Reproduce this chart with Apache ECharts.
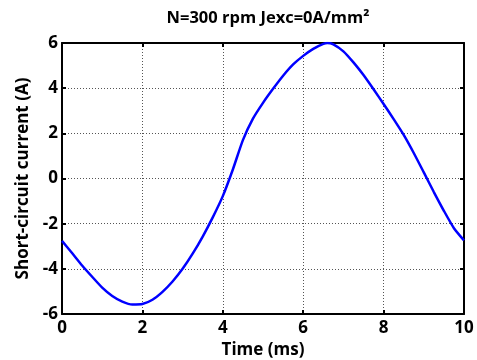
<!DOCTYPE html>
<html>
<head>
<meta charset="utf-8">
<script src="https://cdn.jsdelivr.net/npm/echarts@6/dist/echarts.min.js"></script>
<style>
  html, body { margin: 0; padding: 0; background: #fff; }
  #chart { width: 477px; height: 360px; }
</style>
</head>
<body>
<div id="chart"></div>
<script>
// time (ms) and short-circuit current (A)
const timeMs = [0, 0.25, 0.5, 0.75, 1, 1.25, 1.5, 1.75, 2, 2.25, 2.5, 2.75, 3, 3.25, 3.5, 3.75,
  4, 4.25, 4.5, 4.75, 5, 5.25, 5.5, 5.75, 6, 6.25, 6.5, 6.6, 6.75, 7, 7.25, 7.5, 7.75,
  8, 8.25, 8.5, 8.75, 9, 9.25, 9.5, 9.75, 10];
const current = [-2.76, -3.3, -3.85, -4.35, -4.83, -5.2, -5.45, -5.58, -5.56, -5.37, -5.02, -4.56,
  -4.0, -3.33, -2.57, -1.72, -0.78, 0.4, 1.7, 2.65, 3.35, 3.97, 4.55, 5.05, 5.43, 5.74, 5.96, 6.0,
  5.94, 5.63, 5.14, 4.58, 3.95, 3.3, 2.63, 1.93, 1.13, 0.27, -0.6, -1.43, -2.2, -2.74];
const xTicks = [0, 2, 4, 6, 8, 10];
const yTicks = [-6, -4, -2, 0, 2, 4, 6];
const titleText = 'N=300 rpm Jexc=0A/mm\u00b2';

const font = '"Open Sans", "DejaVu Sans", sans-serif';
const chart = echarts.init(document.getElementById('chart'));

const boxLine = { show: true, onZero: false, lineStyle: { color: '#000', width: 2 } };
const boxTick = { show: true, inside: true, length: 4, lineStyle: { color: '#000', width: 2 } };
const gridLine = { show: true, lineStyle: { color: '#555', type: [1, 2], width: 1 } };
const labelStyle = { color: '#000', fontFamily: font, fontWeight: 'bold', fontSize: 17 };
const nameStyle = { fontFamily: font, fontWeight: 'bold', fontSize: 17, color: '#000' };

chart.setOption({
  animation: false,
  title: {
    text: titleText,
    left: 263, top: 5, textAlign: 'center',
    textStyle: { fontFamily: font, fontWeight: 'bold', fontSize: 16.5, color: '#000' }
  },
  grid: { left: 62, right: 13, top: 43, bottom: 46, containLabel: false, outerBoundsMode: 'none' },
  xAxis: [
    {
      type: 'value', min: xTicks[0], max: xTicks[xTicks.length - 1], interval: 2,
      name: 'Time (ms)', nameLocation: 'middle', nameGap: 27, nameTextStyle: nameStyle,
      axisLine: boxLine, axisTick: boxTick,
      axisLabel: Object.assign({ margin: 6 }, labelStyle),
      splitLine: gridLine
    },
    {
      type: 'value', position: 'top', min: xTicks[0], max: xTicks[xTicks.length - 1], interval: 2,
      axisLine: boxLine, axisTick: boxTick,
      axisLabel: { show: false }, splitLine: { show: false }
    }
  ],
  yAxis: [
    {
      type: 'value', min: yTicks[0], max: yTicks[yTicks.length - 1], interval: 2,
      name: 'Short-circuit current (A)', nameLocation: 'middle', nameGap: 29, nameTextStyle: nameStyle,
      axisLine: boxLine, axisTick: boxTick,
      axisLabel: Object.assign({ margin: 4 }, labelStyle),
      splitLine: gridLine
    },
    {
      type: 'value', position: 'right', min: yTicks[0], max: yTicks[yTicks.length - 1], interval: 2,
      axisLine: boxLine, axisTick: boxTick,
      axisLabel: { show: false }, splitLine: { show: false }
    }
  ],
  series: [{
    type: 'line',
    data: timeMs.map((t, i) => [t, current[i]]),
    smooth: 0.2,
    showSymbol: false,
    lineStyle: { color: '#0000ff', width: 2.5 }
  }]
});
</script>
</body>
</html>
